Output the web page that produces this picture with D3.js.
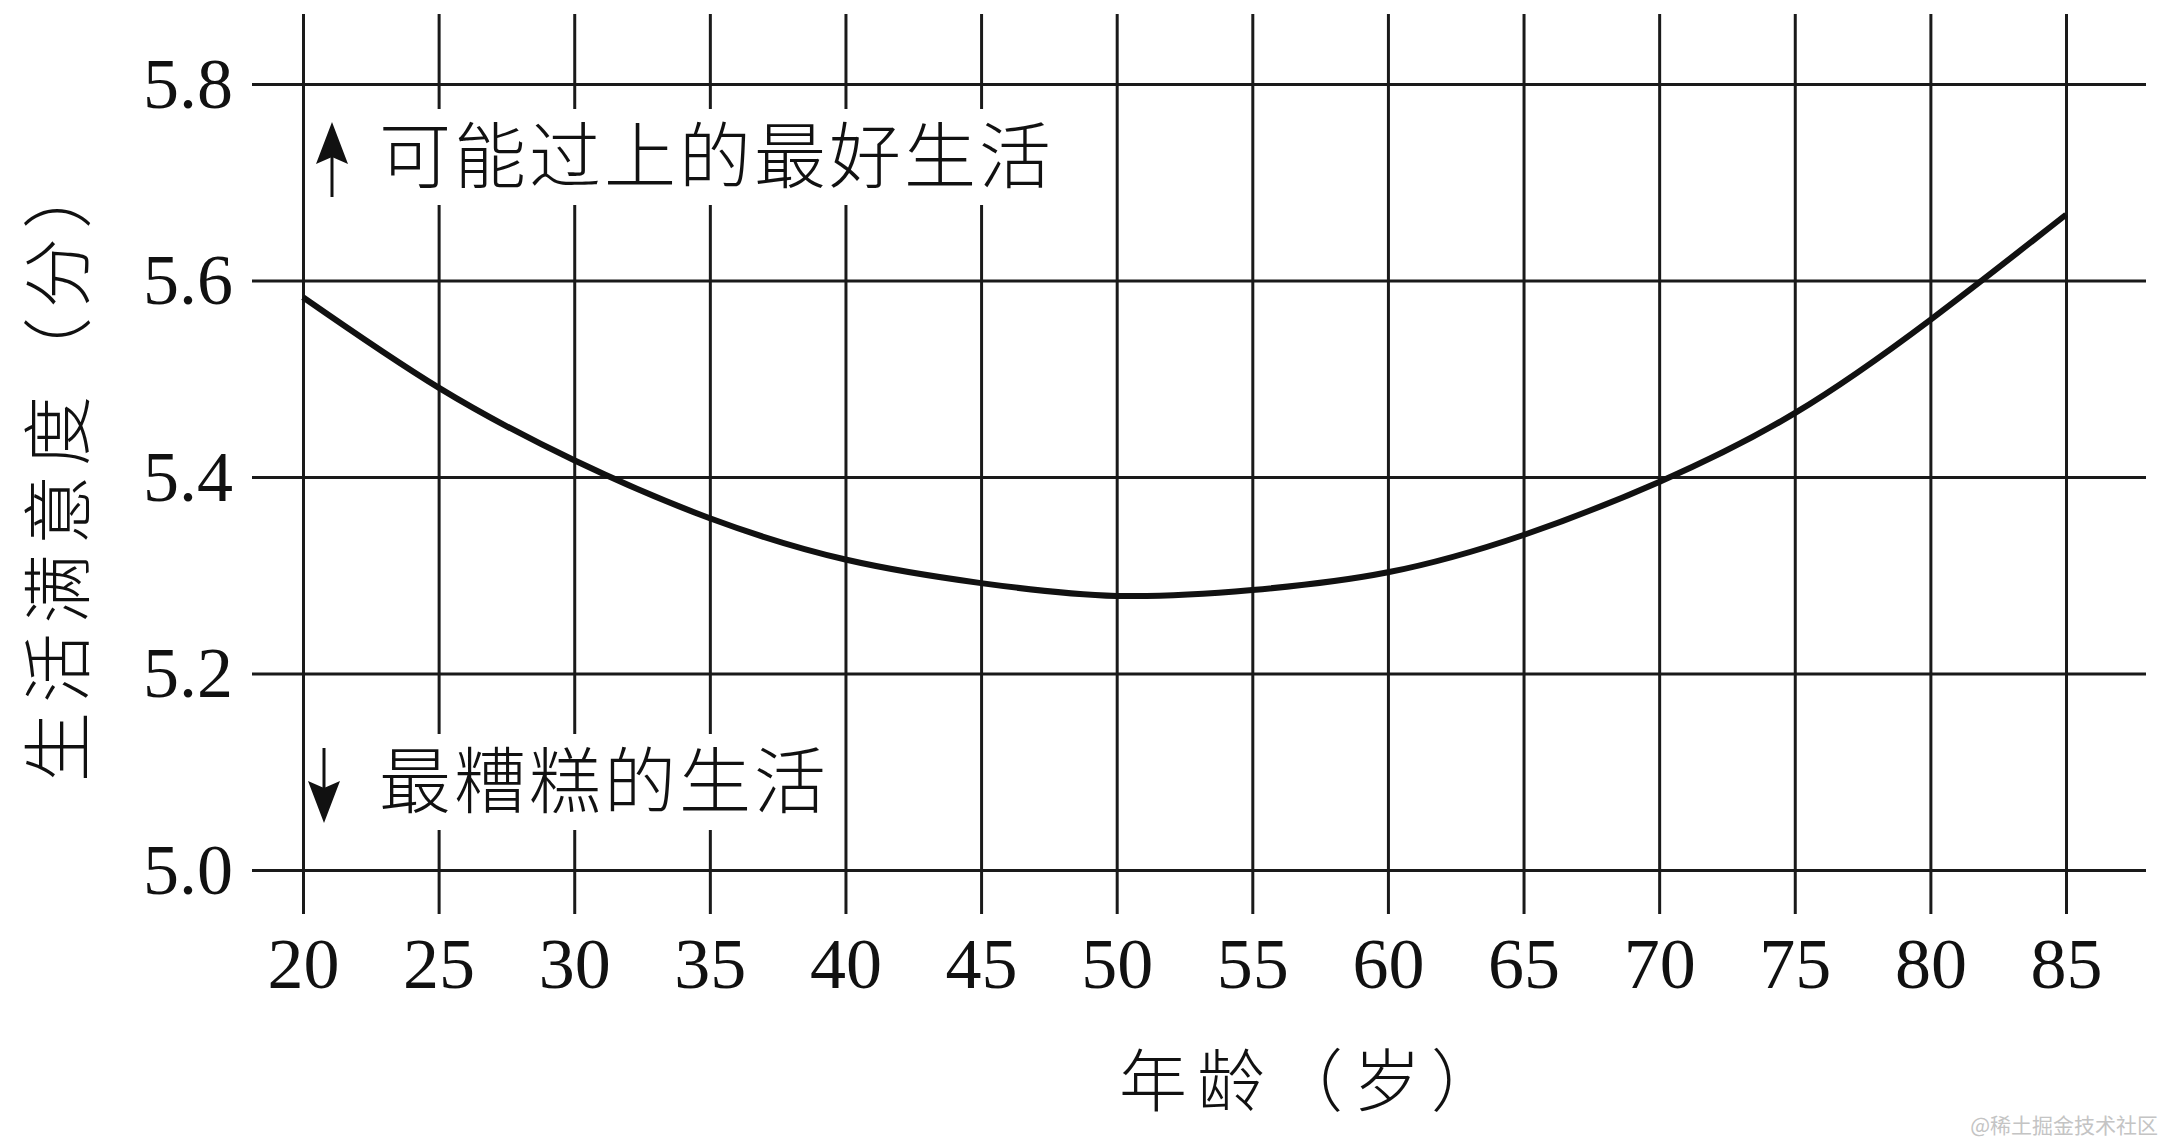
<!DOCTYPE html>
<html>
<head>
<meta charset="utf-8">
<script src="https://cdn.jsdelivr.net/npm/d3@7"></script>
<style>
  body { margin: 0; background: #fff; }
  .num { font-family: "Liberation Serif", "DejaVu Serif", serif; font-size: 72px; fill: #111; }
  .cjk { font-family: "Noto Sans CJK SC", sans-serif; font-weight: 300; fill: #111; }
</style>
</head>
<body>
<div id="chart"></div>
<script>
// Life satisfaction by age (U-curve)

// Data
var ages = [20, 25, 30, 35, 40, 45, 50, 55, 60, 65, 70, 75, 80, 85];
var satisfaction = [5.583, 5.491, 5.417, 5.358, 5.316, 5.292, 5.279, 5.285, 5.303, 5.341, 5.395, 5.465, 5.56, 5.667];
var yTicks = [5.0, 5.2, 5.4, 5.6, 5.8];
var xTitle = "年龄（岁）";
var yTitle = "生活满意度（分）";
var topNote = "可能过上的最好生活";
var bottomNote = "最糟糕的生活";
var watermark = "@稀土掘金技术社区";

// Chart Details
var svgWidth = 2164;
var svgHeight = 1144;

var margin = {
  top: 84,
  right: 98,
  bottom: 274,
  left: 303
};

var width = svgWidth - margin.left - margin.right;
var height = svgHeight - margin.top - margin.bottom;

var svg = d3.select("#chart")
  .append("svg")
  .attr("width", svgWidth)
  .attr("height", svgHeight);

svg.append("rect")
  .attr("width", svgWidth)
  .attr("height", svgHeight)
  .attr("fill", "#fff");

var chartGroup = svg.append("g")
  .attr("transform", `translate(${margin.left}, ${margin.top})`);

// Scales
var xScale = d3.scaleLinear()
  .domain([20, 85])
  .range([0, width]);

var yScale = d3.scaleLinear()
  .domain([5.0, 5.8])
  .range([height, 0]);

// Horizontal grid + y labels
var leftExt = 51;
var rightExt = 80;
var yAxis = chartGroup.append("g")
  .attr("transform", `translate(${-leftExt}, 0)`)
  .call(d3.axisLeft(yScale)
    .tickValues(yTicks)
    .tickFormat(d3.format(".1f"))
    .tickSizeInner(-(width + leftExt + rightExt))
    .tickSizeOuter(0)
    .tickPadding(19));

// Vertical grid + x labels
var topExt = 70;
var bottomExt = 44;
var xAxis = chartGroup.append("g")
  .attr("transform", `translate(0, ${height + bottomExt})`)
  .call(d3.axisBottom(xScale)
    .tickValues(ages)
    .tickFormat(d3.format("d"))
    .tickSizeInner(-(height + bottomExt + topExt))
    .tickSizeOuter(0)
    .tickPadding(23));

[yAxis, xAxis].forEach(function(ax) {
  ax.select(".domain").remove();
  ax.selectAll(".tick line")
    .attr("stroke", "#1a1a1a")
    .attr("stroke-width", 3);
  ax.selectAll(".tick text")
    .attr("class", "num")
    .attr("fill", null);
});

// Annotation boxes (white behind text, breaking the grid)
function note(label, cy, arrowX, up) {
  var g = chartGroup.append("g");
  var box = g.append("rect")
    .attr("fill", "#fff");
  var t = g.append("text")
    .attr("class", "cjk")
    .attr("x", 76)
    .attr("y", cy + 27)
    .attr("font-size", 72)
    .attr("letter-spacing", 3)
    .text(label);
  var bb = t.node().getBBox();
  box.attr("x", 8)
    .attr("y", cy - 46)
    .attr("width", bb.x + bb.width - 8)
    .attr("height", 96);

  // arrow
  var tip = up ? cy - 33 : cy + 43;
  var dir = up ? 1 : -1;
  g.append("line")
    .attr("x1", arrowX).attr("x2", arrowX)
    .attr("y1", tip + dir * 30)
    .attr("y2", tip + dir * 75)
    .attr("stroke", "#111")
    .attr("stroke-width", 3);
  g.append("path")
    .attr("d", `M${arrowX},${tip} L${arrowX - 16},${tip + dir * 42} L${arrowX},${tip + dir * 35} L${arrowX + 16},${tip + dir * 42} Z`)
    .attr("fill", "#111");
}

note(topNote, yScale(5.8) + 71, 29, true);
note(bottomNote, yScale(5.0) - 90, 21, false);

// Curve
var line = d3.line()
  .x(function(d, i) { return xScale(ages[i]); })
  .y(function(d) { return yScale(d); })
  .curve(d3.curveNatural);

chartGroup.append("path")
  .datum(satisfaction)
  .attr("d", line)
  .attr("fill", "none")
  .attr("stroke", "#111")
  .attr("stroke-width", 6);

// Axis titles
svg.append("text")
  .attr("class", "cjk")
  .attr("x", 1314)
  .attr("y", 1106)
  .attr("text-anchor", "middle")
  .attr("font-size", 68)
  .attr("letter-spacing", 10)
  .text(xTitle);

svg.append("text")
  .attr("class", "cjk")
  .attr("transform", "translate(84, 466) rotate(-90)")
  .attr("text-anchor", "middle")
  .attr("font-size", 70)
  .attr("letter-spacing", 9)
  .text(yTitle);

// Watermark
svg.append("text")
  .attr("x", 2158)
  .attr("y", 1133)
  .attr("text-anchor", "end")
  .attr("font-family", "Noto Sans CJK SC, sans-serif")
  .attr("font-size", 21)
  .attr("fill", "#c4c4c4")
  .text(watermark);
</script>
</body>
</html>
